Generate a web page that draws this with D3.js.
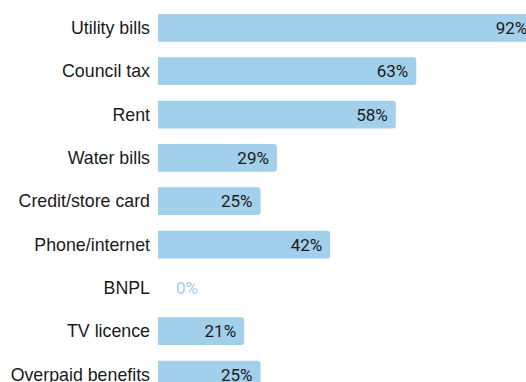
<!DOCTYPE html>
<html>
<head>
<meta charset="utf-8">
<script src="https://cdn.jsdelivr.net/npm/d3@7"></script>
<style>
  html, body { margin: 0; padding: 0; background: #fff; overflow: hidden; }
  svg { display: block; }
</style>
</head>
<body>
<div id="chart"></div>
<script>
// Share of people behind on each type of payment
const categories = [
  "Utility bills",
  "Council tax",
  "Rent",
  "Water bills",
  "Credit/store card",
  "Phone/internet",
  "BNPL",
  "TV licence",
  "Overpaid benefits"
];
const values = [92, 63, 58, 29, 25, 42, 0, 21, 25];

const width = 526, height = 382;
const barColor = "#a2cfeb";

const data = categories.map((c, i) => ({ category: c, value: values[i] }));

const svg = d3.select("#chart").append("svg")
  .attr("width", width)
  .attr("height", height);

const x = d3.scaleLinear().domain([0, 100]).range([158, 568]);

const y = d3.scaleBand()
  .domain(categories)
  .range([6.2, 6.2 + categories.length * 43.33])
  .paddingInner(0.36)
  .paddingOuter(0.18);

// Category labels
svg.append("g")
  .selectAll("text")
  .data(data)
  .join("text")
  .attr("x", 150)
  .attr("y", d => y(d.category) + y.bandwidth() / 2)
  .attr("dy", "0.35em")
  .attr("text-anchor", "end")
  .attr("font-family", "'Liberation Sans', Arial, sans-serif")
  .attr("font-size", 17.8)
  .attr("fill", "#1a1a1a")
  .text(d => d.category);

// Bars with rounded right end
const r = 3;
function barPath(d) {
  const x0 = x(0), x1 = x(d.value);
  const y0 = y(d.category), h = y.bandwidth();
  if (x1 - x0 <= 0) return "";
  const rr = Math.min(r, (x1 - x0) / 2);
  return `M${x0},${y0}H${x1 - rr}Q${x1},${y0} ${x1},${y0 + rr}` +
         `V${y0 + h - rr}Q${x1},${y0 + h} ${x1 - rr},${y0 + h}H${x0}Z`;
}

svg.append("g")
  .selectAll("path")
  .data(data)
  .join("path")
  .attr("d", barPath)
  .attr("fill", barColor);

// Value labels: inside the bar end, or just past the axis when empty
svg.append("g")
  .selectAll("text")
  .data(data)
  .join("text")
  .attr("x", d => d.value > 0 ? x(d.value) - 8 : x(0) + 18)
  .attr("y", d => y(d.category) + y.bandwidth() / 2)
  .attr("dy", "0.36em")
  .attr("text-anchor", d => d.value > 0 ? "end" : "start")
  .attr("font-family", "Roboto, sans-serif")
  .attr("font-size", 17)
  .attr("fill", d => d.value > 0 ? "#1a1a1a" : barColor)
  .text(d => d.value + "%");
</script>
</body>
</html>
